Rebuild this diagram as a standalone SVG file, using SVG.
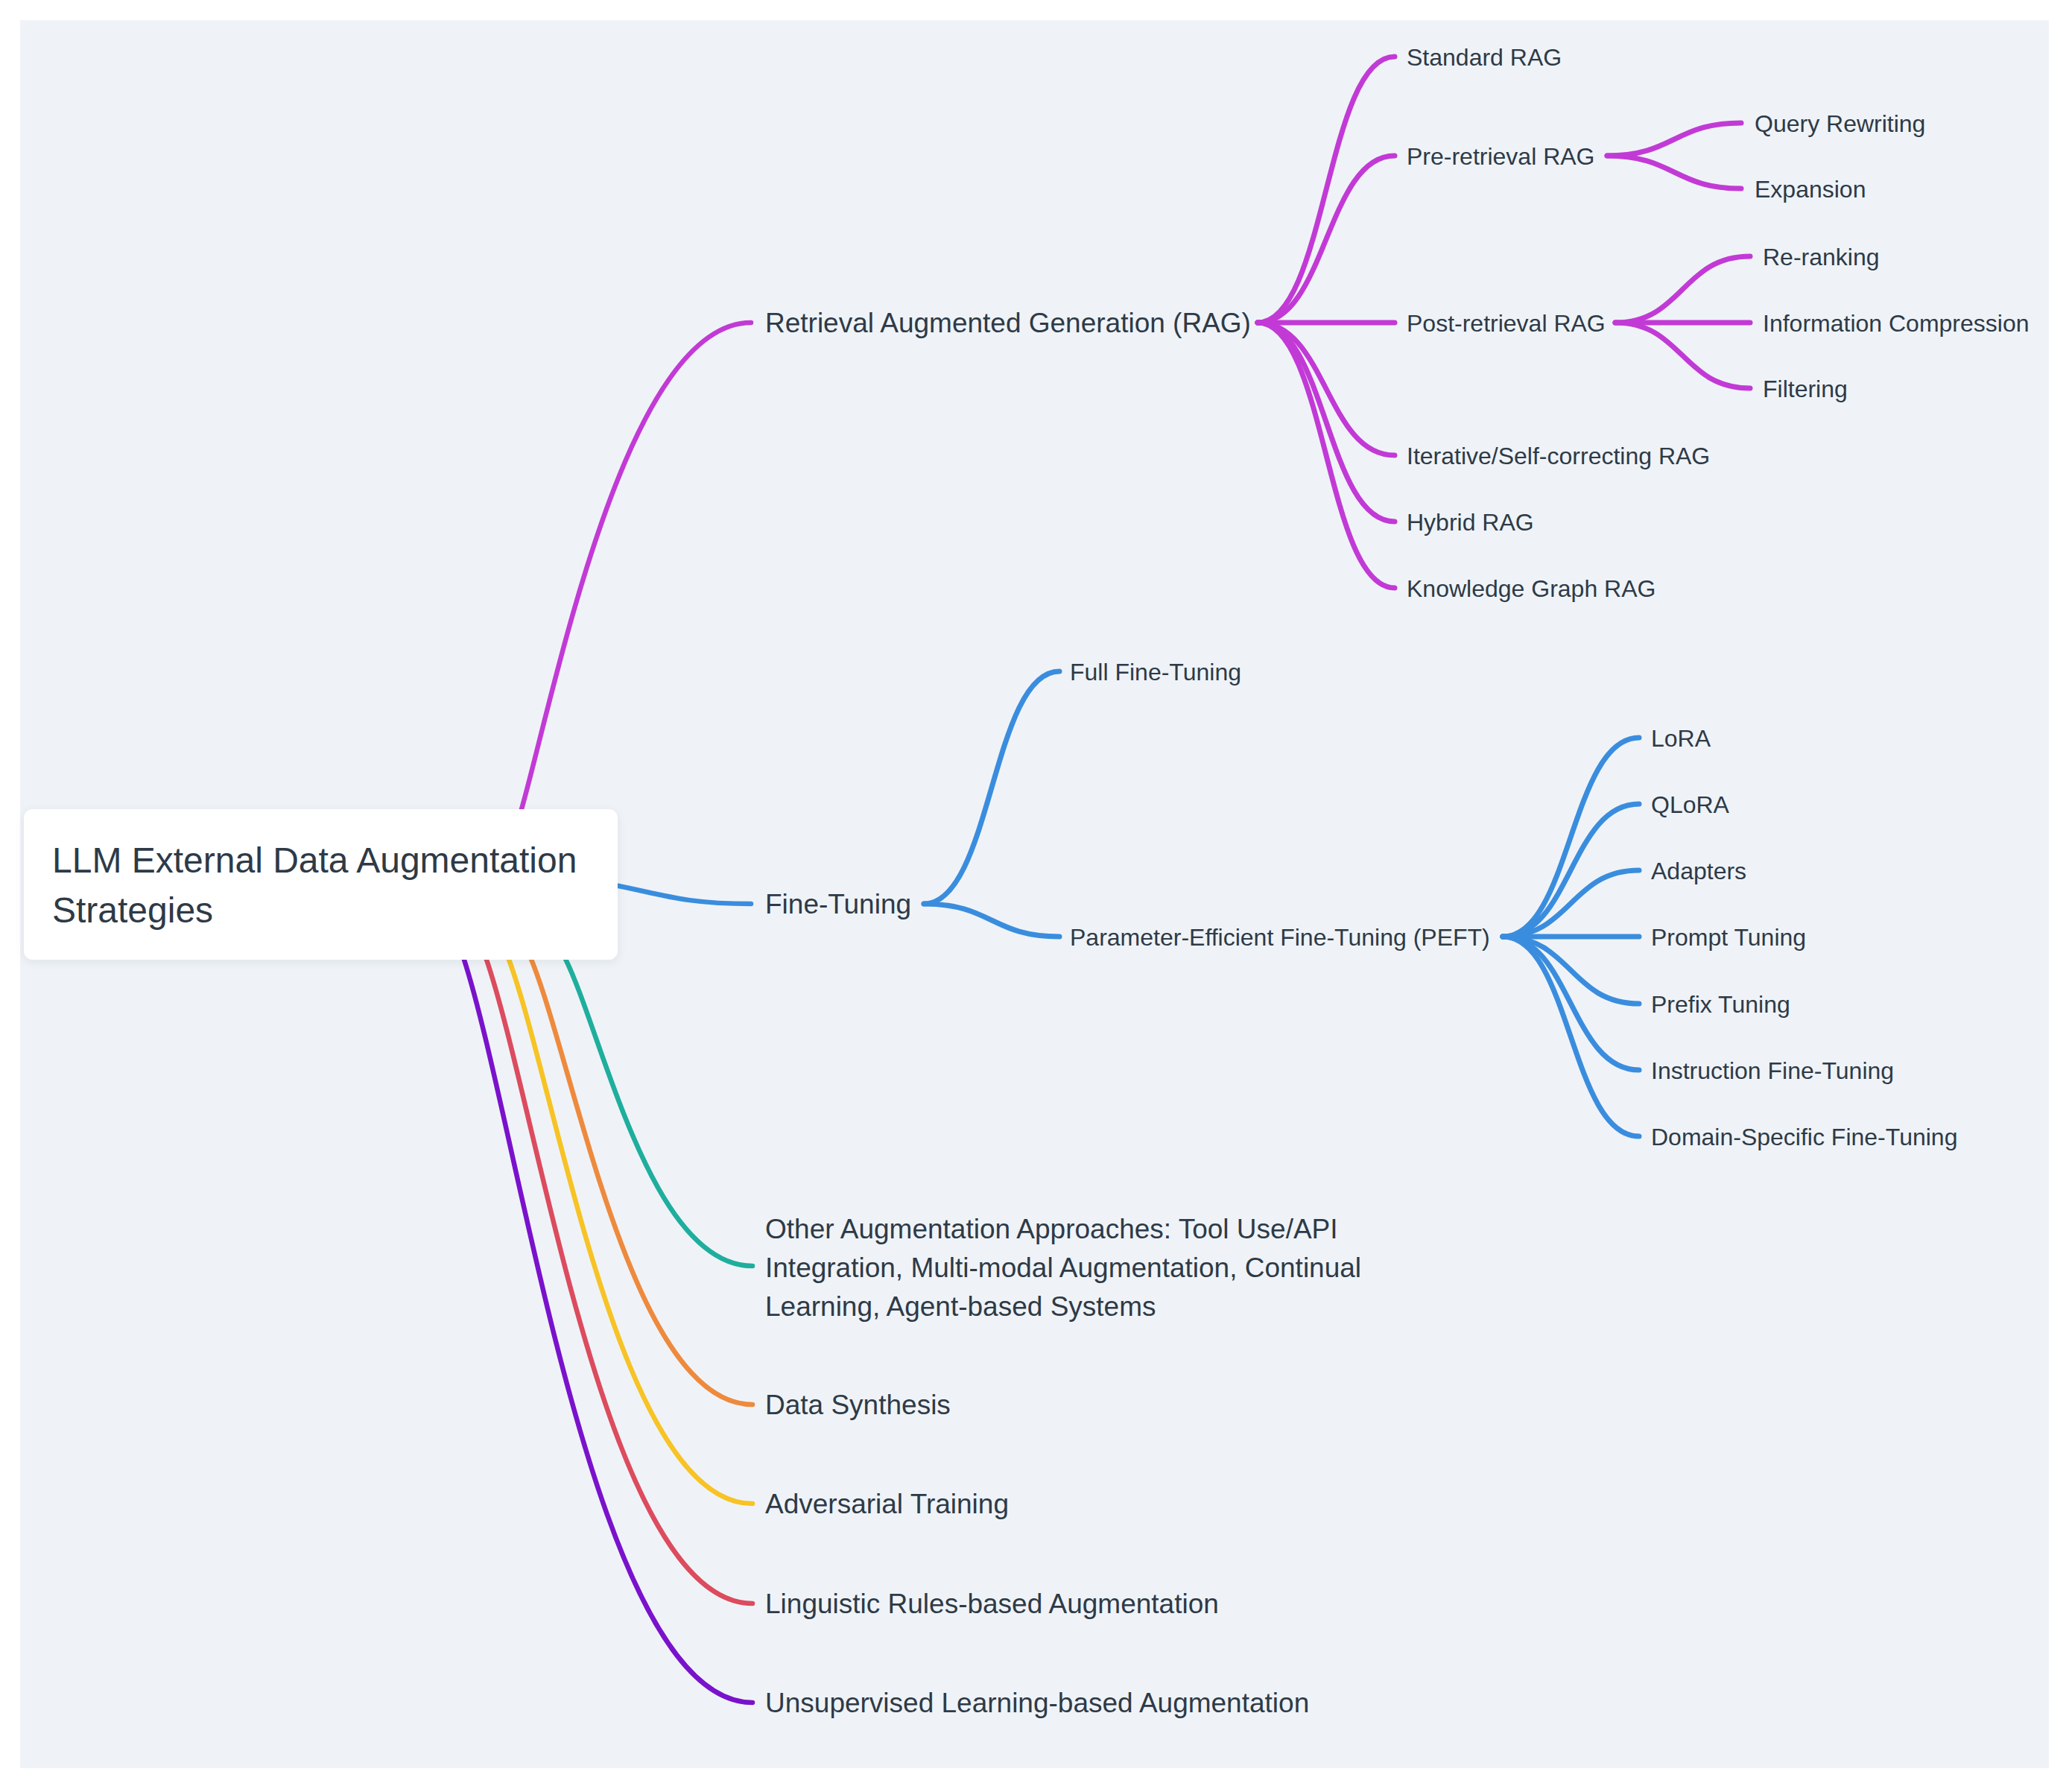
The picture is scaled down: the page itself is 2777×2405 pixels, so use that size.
<svg xmlns="http://www.w3.org/2000/svg" width="2777" height="2405" viewBox="0 0 2777 2405">
<defs>
<style>
.t{font-family:"Liberation Sans",Arial,sans-serif;fill:#2E3A47}
.l0{font-size:48px}
.l1{font-size:37px}
.l2{font-size:32px}
.c{fill:none;stroke-linecap:round;stroke-linejoin:round}
.w1{stroke-width:6.5}
.w2{stroke-width:7}
.mg{stroke:#C23AD6}
.bl{stroke:#3A8DDE}
.tl{stroke:#1FAE9D}
.or{stroke:#EE8A3D}
.ye{stroke:#F7C325}
.rd{stroke:#DC4B5E}
.pu{stroke:#7A12CC}
</style>
<filter id="sh" x="-10%" y="-20%" width="120%" height="150%">
<feDropShadow dx="0" dy="3" stdDeviation="6" flood-color="#1F2D3D" flood-opacity="0.08"/>
</filter>
</defs>
<rect x="0" y="0" width="2777" height="2405" fill="#FFFFFF"/>
<rect x="27" y="27" width="2723" height="2346" fill="#EFF3F7"/>
<g id="connectors">
<path class="c w1 mg" d="M700,1086 C745,928 840,433 1008,433"/>
<path class="c w1 bl" d="M780,1180 C880,1195 900,1213 1008,1213"/>
<path class="c w1 tl" d="M758,1285 C808,1384 873,1699 1010,1699"/>
<path class="c w1 or" d="M712,1285 C772,1429 848,1885 1010,1885"/>
<path class="c w1 ye" d="M682,1285 C748,1461 831,2018 1010,2018"/>
<path class="c w1 rd" d="M652,1285 C724,1493 815,2152 1010,2152"/>
<path class="c w1 pu" d="M622,1285 C700,1525 798,2285 1010,2285"/>
<path class="c w2 mg" d="M1688,433 C1780,433 1780,76 1872,76"/>
<path class="c w2 mg" d="M1688,433 C1780,433 1780,209 1872,209"/>
<path class="c w2 mg" d="M1688,433 L1872,433"/>
<path class="c w2 mg" d="M1688,433 C1780,433 1780,611 1872,611"/>
<path class="c w2 mg" d="M1688,433 C1780,433 1780,700 1872,700"/>
<path class="c w2 mg" d="M1688,433 C1780,433 1780,789 1872,789"/>
<path class="c w2 mg" d="M2157,209 C2247,209 2247,165 2337,165"/>
<path class="c w2 mg" d="M2157,209 C2247,209 2247,253 2337,253"/>
<path class="c w2 mg" d="M2168,433 C2258,433 2258,344 2349,344"/>
<path class="c w2 mg" d="M2168,433 L2349,433"/>
<path class="c w2 mg" d="M2168,433 C2258,433 2258,521 2349,521"/>
<path class="c w2 bl" d="M1240,1213 C1331,1213 1331,901 1422,901"/>
<path class="c w2 bl" d="M1240,1213 C1331,1213 1331,1257 1422,1257"/>
<path class="c w2 bl" d="M2017,1257 C2108,1257 2108,990 2200,990"/>
<path class="c w2 bl" d="M2017,1257 C2108,1257 2108,1079 2200,1079"/>
<path class="c w2 bl" d="M2017,1257 C2108,1257 2108,1168 2200,1168"/>
<path class="c w2 bl" d="M2017,1257 L2200,1257"/>
<path class="c w2 bl" d="M2017,1257 C2108,1257 2108,1347 2200,1347"/>
<path class="c w2 bl" d="M2017,1257 C2108,1257 2108,1436 2200,1436"/>
<path class="c w2 bl" d="M2017,1257 C2108,1257 2108,1525 2200,1525"/>
</g>
<g id="root">
<rect x="32" y="1086" width="797" height="202" rx="12" fill="#FFFFFF" filter="url(#sh)"/>
<text class="t l0" x="70" y="1171">LLM External Data Augmentation</text>
<text class="t l0" x="70" y="1238">Strategies</text>
</g>
<g id="rag"><text class="t l1" x="1027" y="446">Retrieval Augmented Generation (RAG)</text></g>
<g id="standard-rag"><text class="t l2" x="1888" y="87.5">Standard RAG</text></g>
<g id="pre-retrieval-rag"><text class="t l2" x="1888" y="220.5">Pre-retrieval RAG</text></g>
<g id="query-rewriting"><text class="t l2" x="2355" y="176.5">Query Rewriting</text></g>
<g id="expansion"><text class="t l2" x="2355" y="264.5">Expansion</text></g>
<g id="post-retrieval-rag"><text class="t l2" x="1888" y="444.5">Post-retrieval RAG</text></g>
<g id="re-ranking"><text class="t l2" x="2366" y="355.5">Re-ranking</text></g>
<g id="information-compression"><text class="t l2" x="2366" y="444.5">Information Compression</text></g>
<g id="filtering"><text class="t l2" x="2366" y="532.5">Filtering</text></g>
<g id="iterative-rag"><text class="t l2" x="1888" y="622.5">Iterative/Self-correcting RAG</text></g>
<g id="hybrid-rag"><text class="t l2" x="1888" y="711.5">Hybrid RAG</text></g>
<g id="kg-rag"><text class="t l2" x="1888" y="800.5">Knowledge Graph RAG</text></g>
<g id="fine-tuning"><text class="t l1" x="1027" y="1226">Fine-Tuning</text></g>
<g id="full-fine-tuning"><text class="t l2" x="1436" y="912.5">Full Fine-Tuning</text></g>
<g id="peft"><text class="t l2" x="1436" y="1268.5">Parameter-Efficient Fine-Tuning (PEFT)</text></g>
<g id="lora"><text class="t l2" x="2216" y="1001.5">LoRA</text></g>
<g id="qlora"><text class="t l2" x="2216" y="1090.5">QLoRA</text></g>
<g id="adapters"><text class="t l2" x="2216" y="1179.5">Adapters</text></g>
<g id="prompt-tuning"><text class="t l2" x="2216" y="1268.5">Prompt Tuning</text></g>
<g id="prefix-tuning"><text class="t l2" x="2216" y="1358.5">Prefix Tuning</text></g>
<g id="instruction-fine-tuning"><text class="t l2" x="2216" y="1447.5">Instruction Fine-Tuning</text></g>
<g id="domain-specific-fine-tuning"><text class="t l2" x="2216" y="1536.5">Domain-Specific Fine-Tuning</text></g>
<g id="other-approaches">
<text class="t l1" x="1027" y="1662">Other Augmentation Approaches: Tool Use/API</text>
<text class="t l1" x="1027" y="1714">Integration, Multi-modal Augmentation, Continual</text>
<text class="t l1" x="1027" y="1766">Learning, Agent-based Systems</text>
</g>
<g id="data-synthesis"><text class="t l1" x="1027" y="1898">Data Synthesis</text></g>
<g id="adversarial-training"><text class="t l1" x="1027" y="2031">Adversarial Training</text></g>
<g id="linguistic-rules"><text class="t l1" x="1027" y="2165">Linguistic Rules-based Augmentation</text></g>
<g id="unsupervised-learning"><text class="t l1" x="1027" y="2298">Unsupervised Learning-based Augmentation</text></g>
</svg>
